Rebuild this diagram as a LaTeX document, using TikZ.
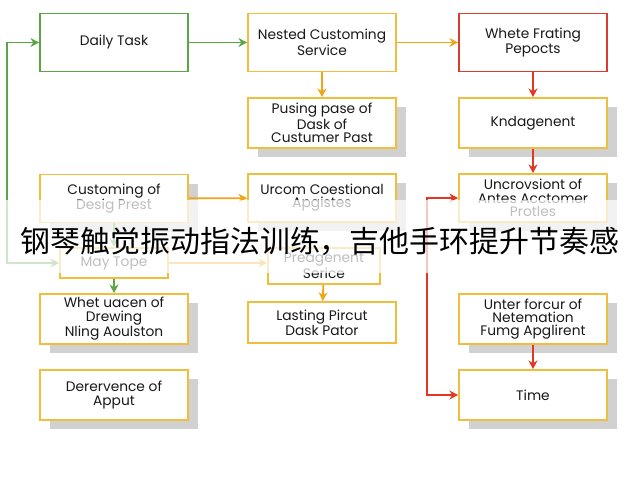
\documentclass[tikz,border=0pt]{standalone}
\usepackage{fontspec}
\usepackage{xcolor}
\usepackage{tikz}
\usetikzlibrary{arrows.meta,positioning,calc,shadows}
\newfontfamily\boxfont{Poppins}
\newfontfamily\cjk{Noto Sans CJK SC}
\definecolor{flowGreen}{RGB}{90,165,70}
\definecolor{flowYellow}{RGB}{240,190,60}
\definecolor{flowRed}{RGB}{220,60,45}
\definecolor{arrOrange}{RGB}{240,165,20}
\definecolor{arrRed}{RGB}{225,55,35}
\definecolor{inktext}{RGB}{25,25,25}

\begin{document}
\begin{tikzpicture}[x=0.025cm,y=-0.025cm,
  box/.style={draw,line width=1.1pt,fill=white,align=center,text=inktext,
    font=\boxfont\fontsize{9.8}{9.4}\selectfont,inner sep=2pt,
    minimum width=3.7cm,minimum height=1.25cm},
  shade/.style={drop shadow={shadow xshift=0.25cm,shadow yshift=-0.23cm,
    fill=black!18,opacity=1}},
  gbox/.style={box,draw=flowGreen},
  ybox/.style={box,draw=flowYellow},
  rbox/.style={box,draw=flowRed},
  flow/.style={line width=1.3pt,-{Stealth[length=2.2mm,width=2.2mm]}},
  twoway/.style={line width=1.3pt,{Stealth[length=2.2mm,width=2.2mm]}-{Stealth[length=2.2mm,width=2.2mm]}}]
  \useasboundingbox (0,0) rectangle (640,480);
  \fill[white] (0,0) rectangle (640,480);
  % top row
  \node[gbox,minimum height=1.45cm] (daily) at (114,42.5) {Daily Task};
  \node[ybox,minimum height=1.45cm] (nested) at (322,42.5) {Nested Customing\\Service};
  \node[rbox,minimum height=1.45cm] (whete) at (533,42.5) {Whete Frating\\Pepocts};
  % second row
  \node[ybox,shade] (pusing) at (322,123) {Pusing pase of\\Dask of\\Custumer Past};
  \node[ybox,shade] (knd) at (533,123) {Kndagenent};
  % third row
  \node[ybox,shade,minimum height=1.2cm] (custom) at (114,198.5) {Customing of\\Desig Prest};
  \node[ybox,shade,minimum height=1.2cm] (urcom) at (322,198) {Urcom Coestional\\Apgistes};
  \node[ybox,shade,minimum height=1.2cm] (uncrov) at (533,198) {Uncrovsiont of\\Antes Acctomer\\Protles};
  % small boxes
  \node[ybox,minimum width=2.7cm,minimum height=0.75cm] (maytope) at (114,263) {May Tope};
  \node[ybox,minimum width=2.8cm,minimum height=0.9cm] (preag) at (324,266) {Preagenent\\Serice};
  % lower rows
  \node[ybox,shade] (whet) at (114,319) {Whet uacen of\\Drewing\\Nling Aoulston};
  \node[ybox,minimum height=1.03cm] (lasting) at (322,322.5) {Lasting Pircut\\Dask Pator};
  \node[ybox,shade] (unter) at (533,319) {Unter forcur of\\Netemation\\Fumg Apglirent};
  \node[ybox,shade] (derer) at (114,395) {Derervence of\\Apput};
  \node[ybox,shade] (time) at (533,395) {Time};
  % connectors
  \draw[flow,flowGreen] (daily) -- (nested);
  \draw[flow,arrOrange] (nested) -- (whete);
  \draw[flow,arrOrange] (nested) -- (pusing);
  \draw[flow,arrRed] (whete) -- (knd);
  \draw[flow,arrRed] (knd) -- (uncrov);
  \draw[flow,arrOrange] (custom) -- (urcom);
  \draw[flow,flowGreen] (custom) -- (maytope);
  \draw[flow,arrOrange] (maytope.east) -- (maytope.east -| preag.west);
  \draw[flow,flowGreen] (maytope) -- (whet);
  \draw[flow,arrOrange] (preag) -- (lasting);
  \draw[flow,arrRed] (unter) -- (time);
  \draw[twoway,flowGreen] (maytope.west) -- ++(-52,0) |- (daily.west);
  \draw[twoway,arrRed] (uncrov.west) -- ++(-31,0) |- (time.west);
  % caption band
  \fill[white,opacity=0.72] (0,200) rectangle (640,273);
  \node[font=\cjk\fontsize{21.3}{24}\selectfont,text=black,inner sep=0pt] (banner) at (320,241)
    {钢琴触觉振动指法训练，吉他手环提升节奏感};
\end{tikzpicture}
\end{document}
